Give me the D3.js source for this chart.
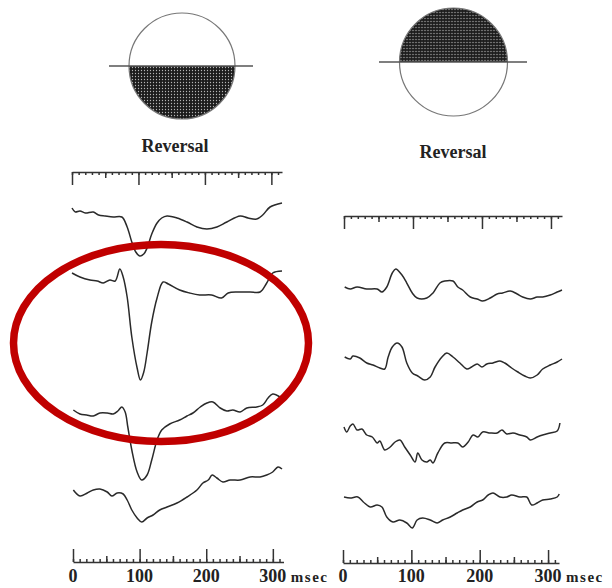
<!DOCTYPE html>
<html>
<head>
  <meta charset="utf-8">
  <title>Pattern reversal evoked responses</title>
  <script src="https://d3js.org/d3.v7.min.js"></script>
  <style>
    body { margin: 0; background: #fff; }
    text { font-family: "Liberation Serif", "DejaVu Serif", serif; font-weight: bold; fill: #222; }
  </style>
</head>
<body>
  <div id="chart"></div>

  <script>
    // Traces: [time in msec, amplitude]
    const leftTraces = [
      [[0,4],[5,0],[12,1],[20,-1],[32,0],[40,-3],[50,-4],[62,-5],[75,-5],[83,-15],[90,-30],[96,-40],[102,-44],[108,-42],[113,-36],[120,-22],[128,-11],[135,-6],[143,-4],[158,-6],[173,-10],[188,-15],[203,-17],[218,-15],[233,-10],[253,-4],[265,-6],[278,-7],[287,-3],[298,5],[316,9]],
      [[0,7],[12,3],[27,0],[38,-1],[47,-3],[57,0],[65,-1],[72,11],[77,3],[83,-17],[90,-57],[98,-88],[103,-100],[108,-92],[113,-73],[120,-42],[128,-18],[137,-2],[145,-4],[162,-10],[177,-13],[192,-15],[210,-15],[225,-18],[235,-13],[250,-12],[268,-12],[283,-12],[293,-3],[302,7],[316,9]],
      [[2,2],[12,-2],[22,-3],[32,-4],[42,-1],[53,-1],[62,-2],[69,1],[75,5],[80,0],[84,-15],[90,-38],[98,-60],[105,-68],[113,-63],[120,-48],[128,-28],[135,-18],[147,-12],[162,-8],[173,-4],[182,-1],[193,5],[203,9],[212,10],[223,4],[233,1],[242,2],[253,0],[263,4],[278,5],[287,7],[295,14],[302,18],[313,15]],
      [[2,2],[12,-4],[23,-1],[32,2],[42,3],[53,0],[60,-4],[68,-1],[77,-2],[83,-8],[90,-18],[98,-26],[105,-30],[113,-26],[122,-23],[132,-18],[143,-15],[158,-11],[173,-5],[188,2],[197,9],[205,12],[211,17],[218,14],[227,10],[238,12],[253,12],[268,15],[283,15],[293,17],[302,20],[310,25],[316,23]]
    ];

    const rightTraces = [
      [[1,2],[9,0],[19,2],[33,0],[48,0],[55,-3],[62,2],[70,16],[75,20],[84,14],[91,6],[99,-4],[106,-9],[120,-9],[129,-4],[139,6],[146,8],[158,8],[165,2],[172,-1],[183,-8],[193,-10],[201,-12],[212,-9],[222,-5],[230,-4],[241,-2],[251,-5],[259,-8],[270,-10],[280,-8],[288,-8],[299,-6],[309,-3],[316,-1]],
      [[1,1],[9,-1],[13,2],[23,0],[33,-5],[42,-7],[52,-10],[59,-11],[64,1],[70,11],[77,15],[84,11],[91,-5],[99,-15],[107,-18],[117,-22],[125,-19],[132,-9],[142,1],[149,5],[158,1],[168,-5],[178,-11],[185,-9],[193,-6],[200,-9],[207,-6],[216,-5],[226,-3],[233,-5],[243,-10],[252,-14],[262,-18],[270,-20],[280,-17],[288,-11],[299,-7],[309,-4],[316,-1]],
      [[0,3],[4,-2],[9,4],[13,6],[19,0],[26,1],[33,-5],[41,-7],[48,-13],[52,-11],[59,-20],[67,-17],[74,-12],[81,-10],[88,-17],[96,-25],[103,-32],[107,-23],[113,-30],[120,-32],[125,-30],[129,-33],[136,-23],[146,-13],[156,-13],[165,-13],[172,-17],[180,-12],[187,-5],[194,-7],[201,-2],[212,-3],[222,-3],[229,0],[236,-4],[245,-3],[255,-5],[265,-7],[270,-10],[280,-7],[288,-5],[299,-3],[309,-1],[313,7]],
      [[0,1],[9,0],[20,1],[28,-4],[38,-9],[48,-7],[55,-9],[62,-19],[71,-24],[81,-22],[91,-25],[99,-30],[106,-22],[114,-20],[125,-22],[135,-25],[143,-22],[154,-19],[164,-15],[172,-12],[183,-9],[193,-4],[201,-2],[209,3],[216,5],[226,1],[236,1],[243,3],[255,1],[265,1],[272,-7],[280,-5],[288,-2],[299,-1],[309,1],[312,4]]
    ];

    const tickLabels = ["0", "100", "200", "300"];
    const labelTimes = [0, 100, 200, 300];
    const titles = ["Reversal", "Reversal"];

    const width = 612, height = 588;

    const svg = d3.select("#chart")
      .append("svg")
      .attr("width", width)
      .attr("height", height);

    // dotted fill for the stimulus half-fields
    const pat = svg.append("defs").append("pattern")
      .attr("id", "dots")
      .attr("patternUnits", "userSpaceOnUse")
      .attr("width", 3).attr("height", 3);
    pat.append("rect").attr("width", 3).attr("height", 3).attr("fill", "#1c1c1c");
    pat.append("circle").attr("cx", 1.5).attr("cy", 1.5).attr("r", 0.65).attr("fill", "#b5b5b5");

    // layout for the two panels
    const panels = [
      { traces: leftTraces, x0: 72, x1: 282, rulerTop: 172, baselines: [212, 280, 412, 492],
        bx0: 73, bx1: 283.5, rulerBottom: 562,
        circle: { cx: 182, cy: 66, r: 53, half: "bottom", line: [109, 253] },
        title: { x: 175, y: 152 } },
      { traces: rightTraces, x0: 344, x1: 562, rulerTop: 216, baselines: [289, 358, 430, 498],
        bx0: 343, bx1: 559, rulerBottom: 563,
        circle: { cx: 453.5, cy: 62, r: 54, half: "top", line: [379, 527] },
        title: { x: 453, y: 158 } }
    ];

    function ruler(g, x, y, up) {
      const axisFn = up ? d3.axisTop : d3.axisBottom;
      const sets = [
        { vals: d3.range(0, 317, 10), size: 3 },
        { vals: d3.range(50, 317, 100), size: 6 },
        { vals: d3.range(0, 317, 100), size: 13 }
      ];
      sets.forEach((s, i) => {
        const a = g.append("g")
          .attr("transform", "translate(0," + y + ")")
          .call(axisFn(x).tickValues(s.vals).tickSize(s.size).tickSizeOuter(0).tickFormat(""));
        a.selectAll("path,line").attr("stroke", "#333").attr("stroke-width", 1.5);
        if (i > 0) a.select(".domain").remove();
      });
    }

    panels.forEach((p, pi) => {
      const g = svg.append("g");

      // stimulus circle
      const c = p.circle;
      const half = c.half === "bottom"
        ? d3.arc().innerRadius(0).outerRadius(c.r).startAngle(Math.PI / 2).endAngle(Math.PI * 1.5)
        : d3.arc().innerRadius(0).outerRadius(c.r).startAngle(-Math.PI / 2).endAngle(Math.PI / 2);
      g.append("path")
        .attr("transform", "translate(" + c.cx + "," + c.cy + ")")
        .attr("d", half())
        .attr("fill", "url(#dots)");
      g.append("circle")
        .attr("cx", c.cx).attr("cy", c.cy).attr("r", c.r)
        .attr("fill", "none").attr("stroke", "#777").attr("stroke-width", 1.2);
      g.append("line")
        .attr("x1", c.line[0]).attr("x2", c.line[1])
        .attr("y1", c.cy).attr("y2", c.cy)
        .attr("stroke", "#555").attr("stroke-width", 1.5);

      g.append("text")
        .attr("x", p.title.x).attr("y", p.title.y)
        .attr("text-anchor", "middle")
        .style("font-size", "18px")
        .text(titles[pi]);

      // time scales
      const x = d3.scaleLinear().domain([0, 316]).range([p.x0, p.x1]);
      const xb = d3.scaleLinear().domain([0, 316]).range([p.bx0, p.bx1]);

      ruler(g, x, p.rulerTop, false);
      ruler(g, xb, p.rulerBottom, true);

      // traces
      p.traces.forEach((tr, i) => {
        const base = p.baselines[i];
        const y = d3.scaleLinear().domain([-100, 30]).range([base + 100, base - 30]);
        const line = d3.line()
          .x(d => x(d[0]))
          .y(d => y(d[1]))
          .curve(d3.curveCatmullRom.alpha(0.5));
        g.append("path")
          .datum(tr)
          .attr("d", line)
          .attr("fill", "none")
          .attr("stroke", "#2a2a2a")
          .attr("stroke-width", 1.5)
          .attr("stroke-linejoin", "round");
      });

      // time labels
      g.append("g").selectAll("text")
        .data(labelTimes)
        .enter()
        .append("text")
        .attr("x", d => xb(d))
        .attr("y", 582)
        .attr("text-anchor", "middle")
        .style("font-size", "18px")
        .text((d, i) => tickLabels[i]);

      g.append("text")
        .attr("x", xb(300) + 18)
        .attr("y", 582)
        .style("font-size", "15px")
        .style("letter-spacing", "1.5px")
        .text("msec");
    });

    // red highlight ellipse around the left responses
    svg.append("ellipse")
      .attr("cx", 161).attr("cy", 343)
      .attr("rx", 147.5).attr("ry", 98.5)
      .attr("fill", "none")
      .attr("stroke", "#c00000")
      .attr("stroke-width", 7.5);
  </script>
</body>
</html>
